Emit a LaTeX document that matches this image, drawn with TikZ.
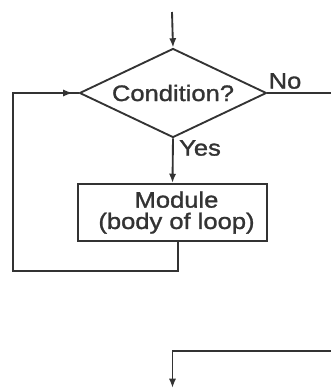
\documentclass[tikz,border=0pt]{standalone}
\usepackage{fontspec}
\setmainfont[FakeStretch=1.14,FakeBold=1.3]{Liberation Sans}
\usetikzlibrary{shapes.geometric,arrows.meta,decorations.markings}
\begin{document}
\begin{tikzpicture}[x=0.75pt,y=-0.75pt,
  line width=1.4pt, draw=black!80,
  flow/.style={-{Latex[length=7pt,width=5.4pt]}},
  decision/.style={diamond, aspect=2.1, draw, inner sep=0pt,
    minimum width=140.25pt, minimum height=66.75pt},
  process/.style={rectangle, draw, inner sep=0pt,
    minimum width=141.75pt, minimum height=42.75pt, align=center},
  lbl/.style={font=\fontsize{16.8}{16}\selectfont, text=black!80},
  midtip/.style={postaction={decorate},
    decoration={markings, mark=at position -4.5pt with {\arrow{Latex[length=7pt,width=5.4pt]}}}}]
\useasboundingbox (0,0) rectangle (331,389);

% nodes
\node[decision,lbl] (cond) at (173,93) {Condition?};
\node[process,lbl] (body) at (172.5,212.5) {\hspace*{6pt}Module\\\hspace*{6pt}(body of loop)};
\node[lbl,inner sep=0pt] (yes) at (200,148) {Yes};
\node[lbl,inner sep=0pt] (no) at (285,81) {No};

% free ends of the connectors
\coordinate (start) at (172,12);
\coordinate (noend) at (331,93);
\coordinate (loopdown) at (178,271);
\coordinate (loopleft) at (13,271);
\coordinate (loopup) at (13,93);
\coordinate (rejoin) at (331,351);
\coordinate (exit) at (172.5,388);

% connectors
\draw[flow] (start) -- (cond.north);
\draw[flow] (cond.south) -- (body.north);
\draw (cond.east) -- (noend);
\draw[midtip] (body.south -| loopdown) -- (loopdown) -- (loopleft) -- (loopup) -- (cond.west);
\draw[flow] (rejoin) -| (exit);
\end{tikzpicture}
\end{document}
